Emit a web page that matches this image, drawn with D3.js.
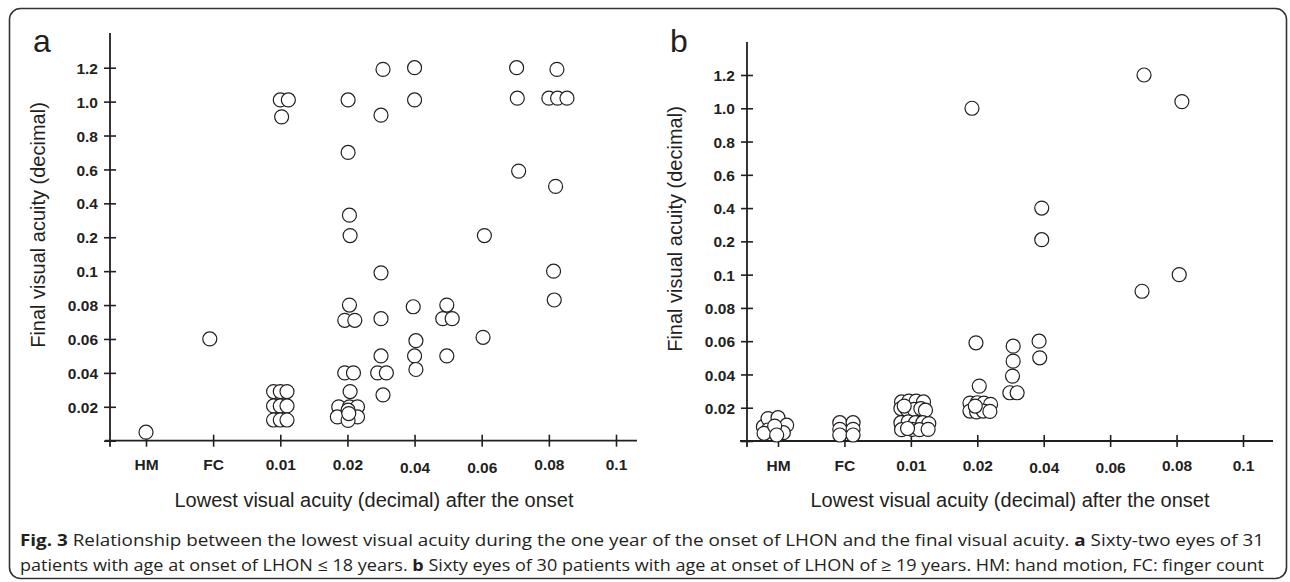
<!DOCTYPE html>
<html>
<head>
<meta charset="utf-8">
<script src="https://cdn.jsdelivr.net/npm/d3@7"></script>
<style>
body { margin: 0; background: #fff; }
svg { display: block; }
</style>
</head>
<body>
<svg width="1290" height="582"></svg>
<script>
var svg = d3.select("svg");

// y axis: equally spaced ticks (not a linear value scale)
var yTicks = [0, 0.02, 0.04, 0.06, 0.08, 0.1, 0.2, 0.4, 0.6, 0.8, 1.0, 1.2];
var yTickLabels = ["", "0.02", "0.04", "0.06", "0.08", "0.1", "0.2", "0.4", "0.6", "0.8", "1.0", "1.2"];

// x axis: categories, numeric ones in between ticks (0.03, 0.05, 0.07) sit half way
var xTicks = ["HM", "FC", "0.01", "0.02", "0.04", "0.06", "0.08", "0.1"];
var xNumTicks = [0.01, 0.02, 0.04, 0.06, 0.08, 0.1];

// [lowest VA, final VA, jitter as part of a tick step]
var pointsA = [
  ["HM", 0.005, 0],
  ["FC", 0.06, -0.05],
  ["0.01", 1.01, 0], ["0.01", 1.01, 0.12], ["0.01", 0.91, 0.02],
  ["0.01", 0.029, -0.1], ["0.01", 0.029, 0], ["0.01", 0.029, 0.1],
  ["0.01", 0.0205, -0.1], ["0.01", 0.0205, 0], ["0.01", 0.0205, 0.1],
  ["0.01", 0.0122, -0.1], ["0.01", 0.0122, 0], ["0.01", 0.0122, 0.1],
  ["0.02", 1.01, 0.01], ["0.02", 0.7, 0.01], ["0.02", 0.33, 0.03], ["0.02", 0.21, 0.04],
  ["0.02", 0.08, 0.03], ["0.02", 0.071, -0.04], ["0.02", 0.071, 0.11],
  ["0.02", 0.04, -0.04], ["0.02", 0.04, 0.09], ["0.02", 0.029, 0.04],
  ["0.02", 0.02, -0.13], ["0.02", 0.02, 0.03], ["0.02", 0.02, 0.15],
  ["0.02", 0.014, -0.15], ["0.02", 0.014, 0.15], ["0.02", 0.018, 0.01],
  ["0.02", 0.012, 0.01], ["0.02", 0.016, 0.02],
  ["0.03", 1.19, 0.03], ["0.03", 0.92, 0], ["0.03", 0.099, 0], ["0.03", 0.072, 0],
  ["0.03", 0.05, 0], ["0.03", 0.04, -0.05], ["0.03", 0.04, 0.08], ["0.03", 0.027, 0.03],
  ["0.04", 1.2, 0], ["0.04", 1.01, 0], ["0.04", 0.079, -0.02], ["0.04", 0.059, 0.02],
  ["0.04", 0.05, 0], ["0.04", 0.042, 0.02],
  ["0.05", 0.08, -0.02], ["0.05", 0.072, -0.08], ["0.05", 0.072, 0.06], ["0.05", 0.05, -0.02],
  ["0.06", 0.21, 0.04], ["0.06", 0.061, 0.02],
  ["0.07", 1.2, 0.02], ["0.07", 1.02, 0.03], ["0.07", 0.59, 0.05],
  ["0.08", 1.19, 0.12], ["0.08", 1.02, 0], ["0.08", 1.02, 0.13], ["0.08", 1.02, 0.27],
  ["0.08", 0.5, 0.1], ["0.08", 0.1, 0.07], ["0.08", 0.083, 0.08]
];

var pointsB = [
  ["HM", 0.0086, -0.22], ["HM", 0.0135, -0.15], ["HM", 0.014, 0], ["HM", 0.0095, 0.13],
  ["HM", 0.0066, -0.15], ["HM", 0.0046, -0.21], ["HM", 0.005, 0.08], ["HM", 0.009, -0.05],
  ["HM", 0.0036, -0.02],
  ["FC", 0.011, -0.07], ["FC", 0.011, 0.13], ["FC", 0.007, -0.07], ["FC", 0.007, 0.13],
  ["FC", 0.0036, -0.07], ["FC", 0.0036, 0.13],
  ["0.01", 0.0235, -0.14], ["0.01", 0.024, -0.03], ["0.01", 0.024, 0.08], ["0.01", 0.0235, 0.19],
  ["0.01", 0.0195, -0.15], ["0.01", 0.019, -0.06], ["0.01", 0.019, 0.05], ["0.01", 0.0195, 0.15],
  ["0.01", 0.0185, 0.22], ["0.01", 0.021, -0.1],
  ["0.01", 0.011, -0.15], ["0.01", 0.0115, -0.04], ["0.01", 0.011, 0.07], ["0.01", 0.011, 0.18],
  ["0.01", 0.0105, 0.27], ["0.01", 0.0068, -0.14], ["0.01", 0.007, 0.02], ["0.01", 0.0068, 0.13],
  ["0.01", 0.007, 0.26], ["0.01", 0.0075, -0.05],
  ["0.02", 1.0, -0.08], ["0.02", 0.059, -0.02], ["0.02", 0.033, 0.03],
  ["0.02", 0.0228, -0.11], ["0.02", 0.023, 0], ["0.02", 0.0228, 0.1], ["0.02", 0.022, 0.2],
  ["0.02", 0.018, -0.11], ["0.02", 0.0175, -0.01], ["0.02", 0.018, 0.09], ["0.02", 0.0178, 0.19],
  ["0.02", 0.021, -0.03],
  ["0.03", 0.057, 0.04], ["0.03", 0.048, 0.04], ["0.03", 0.039, 0.03],
  ["0.03", 0.029, -0.01], ["0.03", 0.029, 0.1],
  ["0.04", 0.4, -0.03], ["0.04", 0.21, -0.03], ["0.04", 0.06, -0.07], ["0.04", 0.05, -0.06],
  ["0.07", 1.2, 0.01], ["0.07", 0.09, -0.02],
  ["0.08", 1.04, 0.08], ["0.08", 0.1, 0.04]
];

var xTitle = "Lowest visual acuity (decimal) after the onset";
var yTitle = "Final visual acuity (decimal)";

var caption1 = [
  ["Fig. 3", true],
  [" Relationship between the lowest visual acuity during the one year of the onset of LHON and the final visual acuity. ", false],
  ["a", true],
  [" Sixty-two eyes of 31", false]
];
var caption2 = [
  ["patients with age at onset of LHON \u2264 18 years. ", false],
  ["b", true],
  [" Sixty eyes of 30 patients with age at onset of LHON of \u2265 19 years. HM: hand motion, FC: finger count", false]
];

var panels = [
  {name: "a", points: pointsA, axisX: 110, y0: 440.7, y12: 67.7, yAxisTop: 33,
   xFirst: 146, xLast: 616, xStart: 105, xEnd: 637, letterX: 33, titleX: 374, yTitleY: 225},
  {name: "b", points: pointsB, axisX: 747, y0: 441, y12: 75, yAxisTop: 42,
   xFirst: 778, xLast: 1243, xStart: 740, xEnd: 1273, letterX: 670, titleX: 1010, yTitleY: 229}
];

var ink = "#231f20";
var font = "'Liberation Sans', Arial, Helvetica, sans-serif";

// frame
svg.append("rect")
  .attr("x", 9.5).attr("y", 8.5)
  .attr("width", 1277).attr("height", 570)
  .attr("rx", 11).attr("ry", 11)
  .attr("fill", "none")
  .attr("stroke", "#333")
  .attr("stroke-width", 1.6);

var numToIdx = d3.scaleLinear().domain(xNumTicks).range([2, 3, 4, 5, 6, 7]);
function catIndex(c) {
  var i = xTicks.indexOf(c);
  return i >= 0 ? i : numToIdx(+c);
}

panels.forEach(function(p) {
  var g = svg.append("g");

  var idxToY = d3.scaleLinear().domain([0, yTicks.length - 1]).range([p.y0, p.y12]);
  var y = d3.scaleLinear().domain(yTicks).range(yTicks.map(function(d, i) { return idxToY(i); }));
  var x = d3.scaleLinear().domain([0, xTicks.length - 1]).range([p.xFirst, p.xLast]);
  var step = x(1) - x(0);

  // y axis
  var yAxis = d3.axisLeft(y)
    .tickValues(yTicks)
    .tickSize(6)
    .tickPadding(6)
    .tickFormat(function(d, i) { return yTickLabels[i]; });
  var ya = g.append("g")
    .attr("transform", "translate(" + p.axisX + ",0)")
    .call(yAxis);
  ya.select(".domain").remove();
  ya.selectAll(".tick line").attr("x1", 6).attr("stroke", ink).attr("stroke-width", 1.6);
  ya.selectAll(".tick text")
    .attr("font-family", font).attr("font-size", 15.5).attr("font-weight", "bold")
    .attr("fill", ink).attr("dy", "0.36em");

  // x axis
  var xAxis = d3.axisBottom(x)
    .tickValues(d3.range(xTicks.length))
    .tickSize(6)
    .tickPadding(15)
    .tickFormat(function(i) { return xTicks[i]; });
  var xa = g.append("g")
    .attr("transform", "translate(0," + p.y0 + ")")
    .call(xAxis);
  xa.select(".domain").remove();
  xa.selectAll(".tick line").attr("y1", -6).attr("stroke", ink).attr("stroke-width", 1.6);
  xa.selectAll(".tick text")
    .attr("font-family", font).attr("font-size", 15.5).attr("font-weight", "bold")
    .attr("fill", ink)
    .attr("dy", function(i) { return (xTicks[i] == "0.04" || xTicks[i] == "0.06") ? "0.71em" : "0.55em"; });

  // axis lines
  g.append("line")
    .attr("x1", p.axisX).attr("x2", p.axisX)
    .attr("y1", p.yAxisTop).attr("y2", p.y0 + 6)
    .attr("stroke", ink).attr("stroke-width", 1.8);
  g.append("line")
    .attr("x1", p.xStart).attr("x2", p.xEnd)
    .attr("y1", p.y0).attr("y2", p.y0)
    .attr("stroke", ink).attr("stroke-width", 1.8);

  // points
  g.append("g")
    .selectAll("circle")
    .data(p.points)
    .enter().append("circle")
    .attr("cx", function(d) { return x(catIndex(d[0])) + d[2] * step; })
    .attr("cy", function(d) { return y(d[1]); })
    .attr("r", 7)
    .attr("fill", "#fff")
    .attr("stroke", ink)
    .attr("stroke-width", 1.2);

  // titles
  g.append("text")
    .attr("x", p.titleX).attr("y", 507)
    .attr("text-anchor", "middle")
    .attr("font-family", font).attr("font-size", 20)
    .attr("fill", ink)
    .text(xTitle);
  g.append("text")
    .attr("transform", "translate(" + (p.letterX + 12) + "," + p.yTitleY + ") rotate(-90)")
    .attr("text-anchor", "middle")
    .attr("font-family", font).attr("font-size", 20)
    .attr("fill", ink)
    .text(yTitle);

  // panel letter
  g.append("text")
    .attr("x", p.letterX).attr("y", 52)
    .attr("font-family", font).attr("font-size", 32)
    .attr("fill", ink)
    .text(p.name);
});

// caption
function captionLine(parts, yPos) {
  var t = svg.append("text")
    .attr("x", 20).attr("y", yPos)
    .attr("font-family", "'Open Sans', 'Noto Sans', sans-serif")
    .attr("font-size", 16.5)
    .attr("fill", ink)
    .attr("textLength", 1244)
    .attr("lengthAdjust", "spacingAndGlyphs");
  parts.forEach(function(s) {
    t.append("tspan")
      .attr("font-weight", s[1] ? "bold" : "normal")
      .text(s[0]);
  });
}
captionLine(caption1, 546);
captionLine(caption2, 571);
</script>
</body>
</html>
